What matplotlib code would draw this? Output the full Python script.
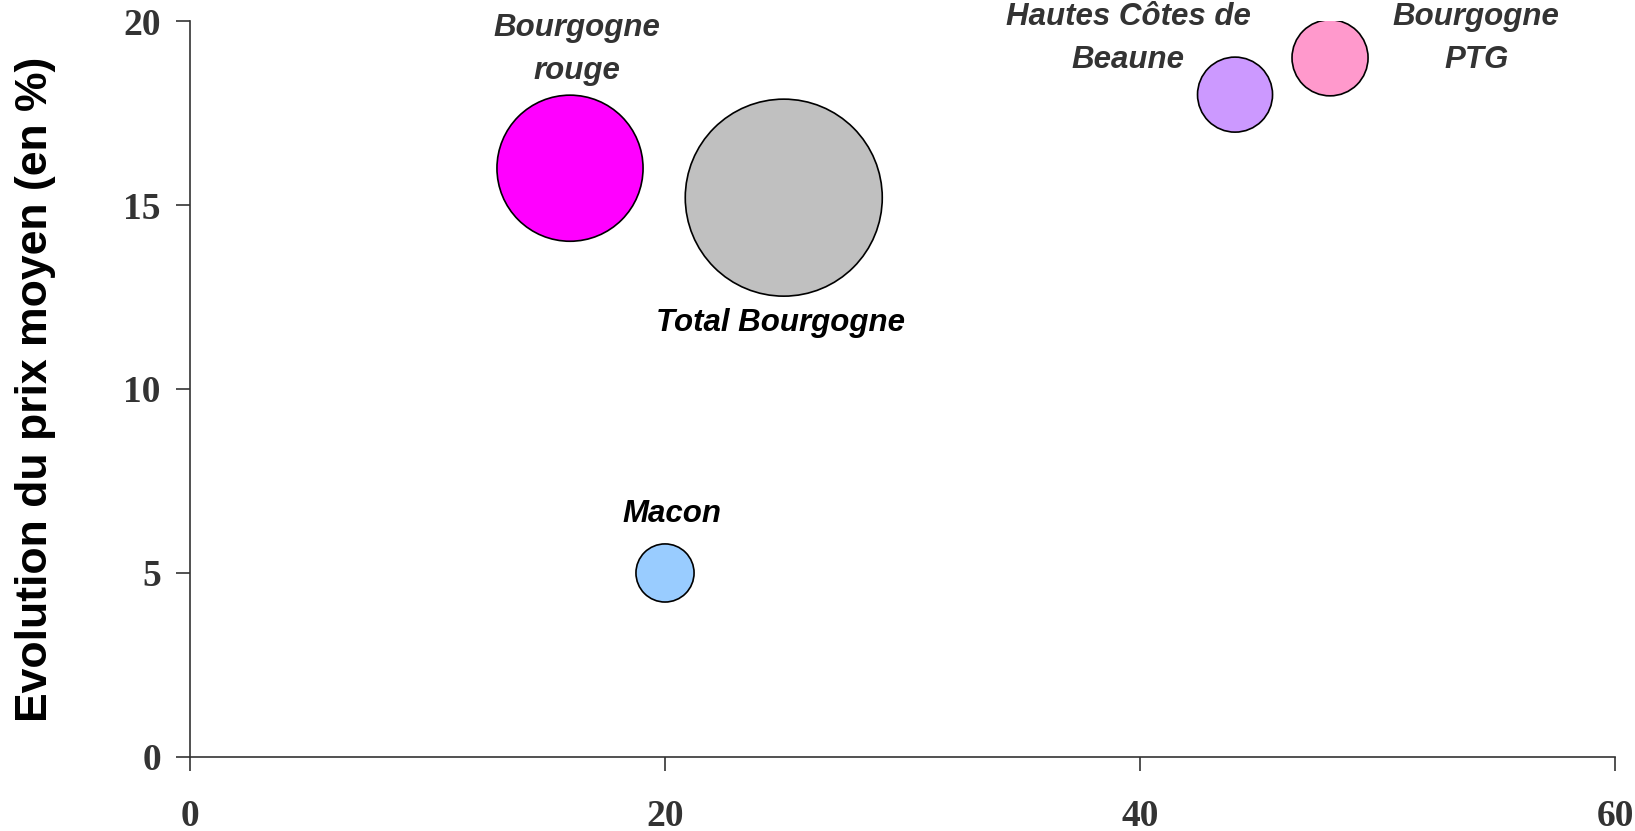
import numpy as np
import matplotlib.pyplot as plt

# data
noms = ['Bourgogne\nrouge', 'Total Bourgogne', 'Macon', 'Hautes Côtes de\nBeaune', 'Bourgogne\nPTG']
x = [16, 25, 20, 44, 48]
y = [16, 15.2, 5, 18, 19]
taille = [55, 100, 8.7, 14.5, 14.9]
couleurs = ['#FF00FF', '#C0C0C0', '#99CCFF', '#CC99FF', '#FF99CC']

# label positions (data coords) and colours
lab_x = [16.3, 24.85, 20.3, 39.5, 54.15]
lab_y = [19.22, 11.78, 6.6, 19.53, 19.53]
lab_col = ['#333333', '#000000', '#000000', '#333333', '#333333']

fig = plt.figure(figsize=(16.35, 8.31), dpi=100)
ax = fig.add_axes([0.1162, 0.0891, 0.8716, 0.8856])

ax.scatter(x, y, s=np.array(taille) * 201.2, c=couleurs, edgecolors='black', linewidths=1.2, zorder=3)

for n, lx, ly, col in zip(noms, lab_x, lab_y, lab_col):
    ax.text(lx, ly, n, ha='center', va='center', fontsize=22.5, fontweight='bold', fontstyle='italic',
            family='Liberation Sans', color=col, linespacing=1.55, clip_on=False)

ax.set_xlim(0, 60)
ax.set_ylim(0, 20)
ax.set_xticks([0, 20, 40, 60])
ax.set_yticks([0, 5, 10, 15, 20])
for s in ['top', 'right']:
    ax.spines[s].set_visible(False)
for s in ['left', 'bottom']:
    ax.spines[s].set_color('#333333')
    ax.spines[s].set_linewidth(1.2)
ax.tick_params(direction='out', length=10, width=1.2, color='#333333', labelsize=27,
               labelcolor='#333333')
ax.tick_params(axis='x', pad=20)
ax.tick_params(axis='y', pad=11)
for t in ax.get_xticklabels() + ax.get_yticklabels():
    t.set_family('Liberation Serif')
    t.set_fontweight('bold')

ax.set_ylabel('Evolution du prix moyen (en %)', fontsize=32, fontweight='bold', family='Liberation Sans')
ax.yaxis.set_label_coords(-0.094, 0.5)

fig.savefig('out.png', dpi=100)
